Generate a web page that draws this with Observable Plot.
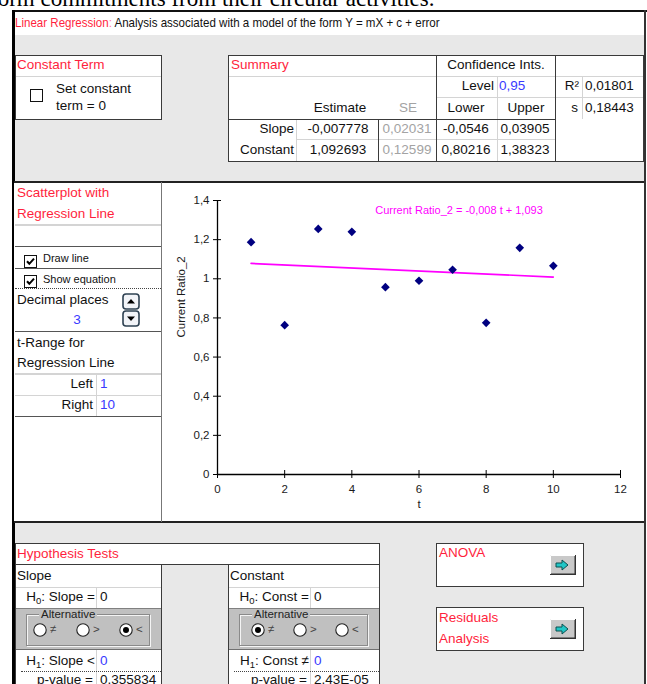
<!DOCTYPE html>
<html><head><meta charset="utf-8">
<script src="https://cdn.jsdelivr.net/npm/d3@7"></script>
<script src="https://cdn.jsdelivr.net/npm/@observablehq/plot@0.6"></script>
<style>
html,body{margin:0;padding:0;background:#fff;width:647px;height:684px;overflow:hidden;font-family:"Liberation Sans",Arial,sans-serif;}
#root{position:relative;width:647px;height:684px;overflow:hidden;}
.a{position:absolute;box-sizing:border-box;}
.t{position:absolute;white-space:nowrap;line-height:1;}
sub{font-size:9.5px;vertical-align:-3px;line-height:0;}
</style></head><body><div id="root"></div>
<script>
// ---------- data ----------
const tValues = [1, 2, 3, 4, 5, 6, 7, 8, 9, 10];
const currentRatio2 = [1.187, 0.763, 1.255, 1.240, 0.957, 0.990, 1.046, 0.775, 1.158, 1.066];
const xTicks = [0, 2, 4, 6, 8, 10, 12];
const yTicks = [0, 0.2, 0.4, 0.6, 0.8, 1, 1.2, 1.4];
const yTickLabels = ["0", "0,2", "0,4", "0,6", "0,8", "1", "1,2", "1,4"];
const slopeEstimate = -0.007778;
const constantEstimate = 1.092693;
const coefNames = ["Slope", "Constant"];
const estimates = ["-0,007778", "1,092693"];
const stdErrors = ["0,02031", "0,12599"];
const lowerCI = ["-0,0546", "0,80216"];
const upperCI = ["0,03905", "1,38323"];
const confLevel = "0,95";
const rSquared = "0,01801";
const sValue = "0,18443";
const pValues = ["0,355834", "2,43E-05"];
const decimalPlaces = 3;
const tRange = [1, 10];

// ---------- helpers ----------
const root = document.getElementById("root");
const RED = "#ff1f3d", BLUE = "#3a3aff", DARK = "#3a3a3a", LIGHT = "#d4d4d4";
function box(x, y, w, h, css) {
  const d = document.createElement("div"); d.className = "a";
  d.style.cssText = `left:${x}px;top:${y}px;width:${w}px;height:${h}px;` + (css || "");
  root.appendChild(d); return d;
}
function hline(x1, x2, y, c, w) { return box(x1, y, x2 - x1, w || 1, `background:${c || DARK};`); }
function vline(x, y1, y2, c, w) { return box(x, y1, w || 1, y2 - y1, `background:${c || DARK};`); }
function dotted(x1, x2, y) { return box(x1, y, x2 - x1, 1, "border-top:1px dotted #444;"); }
function txt(x, base, s, o = {}) {
  const fs = o.fs || 13.5;
  const d = document.createElement("div"); d.className = "t";
  let css = `top:${base - 0.86 * fs}px;font-size:${fs}px;color:${o.c || "#111"};`;
  if (o.align === "right") css += `right:${647 - x}px;text-align:right;`;
  else if (o.align === "center") css += `left:${x - 100}px;width:200px;text-align:center;`;
  else css += `left:${x}px;`;
  if (o.css) css += o.css;
  d.style.cssText = css; d.innerHTML = s; root.appendChild(d); return d;
}
function svg(x, y, w, h, inner) {
  const d = document.createElement("div"); d.className = "a";
  d.style.cssText = `left:${x}px;top:${y}px;width:${w}px;height:${h}px;`;
  d.innerHTML = `<svg width="${w}" height="${h}" viewBox="0 0 ${w} ${h}">${inner}</svg>`;
  root.appendChild(d); return d;
}
function checkbox(x, y, on) {
  svg(x, y, 13, 13, `<rect x="0.5" y="0.5" width="12" height="12" fill="#fff" stroke="#111"/>` +
    (on ? `<path d="M3 6.3 L5.3 8.8 L10 3.6" fill="none" stroke="#000" stroke-width="2"/>` : ""));
}
function radio(cx, cy, on) {
  svg(cx - 7, cy - 7, 14, 14, `<circle cx="7" cy="7" r="6.2" fill="#fff" stroke="#222" stroke-width="1.1"/>` +
    (on ? `<circle cx="7" cy="7" r="3" fill="#000"/>` : ""));
}
function spin(x, y, up) {
  svg(x, y, 18, 17, `<rect x="1" y="1" width="16" height="15" rx="3" fill="#f2f4f8" stroke="#2e4152" stroke-width="1.6"/>` +
    (up ? `<path d="M5 10.5 L9 6 L13 10.5 Z" fill="#000"/>` : `<path d="M5 6.5 L9 11 L13 6.5 Z" fill="#000"/>`));
}
function arrowBtn(x, y) {
  svg(x, y, 26, 20, `<rect x="0" y="0" width="26" height="20" fill="#c9c9c9"/>` +
    `<path d="M0 19.5 H25.5 V0" fill="none" stroke="#333" stroke-width="2"/>` +
    `<path d="M0.5 19 V0.5 H25" fill="none" stroke="#fff" stroke-width="1"/>` +
    `<path d="M6 8 H12 V5 L18 10 L12 15 V12 H6 Z" fill="#21c6c6" stroke="#0b5050" stroke-width="1"/>`);
}

// ---------- page background text ----------
txt(-10, 7, "form commitments from their circular activities.", { fs: 23, c: "#000", css: "font-family:'Liberation Serif','Times New Roman',serif;" });

// ---------- frame ----------
box(14, 11, 630, 24, "background:#fff;");
box(14, 35, 630, 660, "background:#e8e8e8;");
hline(12, 647, 10, "#111", 1.5);
vline(12, 10, 684, "#000", 2.5);
vline(644, 10, 684, "#333", 2);
txt(15, 28, `<span style="color:${RED}">Linear Regression</span><span style="color:#f7a">:</span> Analysis associated with a model of the form Y = mX + c + error`,
  { fs: 13.5, c: "#111", css: "transform:scaleX(0.855);transform-origin:0 0;" });

// ---------- Constant Term ----------
box(15, 55, 147, 65, `background:#fff;border:1px solid ${DARK};`);
hline(16, 161, 76, LIGHT);
txt(17, 70, "Constant Term", { c: RED });
checkbox(30, 88, false);
txt(56, 94, "Set constant");
txt(56, 111, "term = 0");

// ---------- Summary ----------
box(228, 55, 416, 107, `background:#fff;border:1px solid ${DARK};`);
hline(229, 643, 76, LIGHT);
hline(436, 643, 97, LIGHT);
hline(296, 555, 139, LIGHT);
vline(296, 119, 161, LIGHT);
vline(497, 76, 161, LIGHT);
vline(582, 76, 119, LIGHT);
vline(436, 55, 161, DARK);
vline(555, 55, 161, DARK);
vline(378, 119, 161, DARK);
hline(228, 555, 119, DARK);
txt(231, 70, "Summary", { c: RED });
txt(496, 70, "Confidence Ints.", { align: "center" });
txt(494, 91, "Level", { align: "right" });
txt(499, 91, confLevel, { c: BLUE });
txt(579, 91, "R²", { align: "right" });
txt(585, 91, rSquared);
txt(340, 113, "Estimate", { align: "center" });
txt(408, 113, "SE", { align: "center", c: "#a3a3a3" });
txt(466, 113, "Lower", { align: "center" });
txt(526, 113, "Upper", { align: "center" });
txt(578, 113, "s", { align: "right" });
txt(585, 113, sValue);
coefNames.forEach((n, i) => {
  const b = 134 + i * 21;
  txt(294, b, n, { align: "right" });
  txt(338, b, estimates[i], { align: "center" });
  txt(407, b, stdErrors[i], { align: "center", c: "#a3a3a3" });
  txt(466, b, lowerCI[i], { align: "center" });
  txt(525, b, upperCI[i], { align: "center" });
});

// ---------- Scatterplot section ----------
box(14, 182, 630, 340, "background:#fff;");
hline(14, 644, 181, "#222", 1.5);
hline(14, 644, 521, "#222", 1.5);
vline(161, 182, 522, "#777");
txt(17, 198, "Scatterplot with", { c: RED });
txt(17, 219, "Regression Line", { c: RED });
hline(15, 161, 224, LIGHT, 2);
hline(15, 161, 246, "#555");
checkbox(24, 254, true);
txt(43, 262, "Draw line", { fs: 11 });
hline(15, 161, 268, "#555");
checkbox(24, 274, true);
txt(43, 283, "Show equation", { fs: 11 });
dotted(15, 161, 288);
txt(17, 305, "Decimal places");
txt(77, 325, String(decimalPlaces), { align: "center", c: BLUE });
spin(122, 293, true);
spin(122, 310, false);
hline(15, 161, 331, "#555");
txt(17, 348, "t-Range for");
txt(17, 368, "Regression Line");
hline(15, 161, 373, LIGHT, 2);
hline(15, 161, 395, LIGHT);
vline(96, 373, 416, LIGHT);
txt(93, 389, "Left", { align: "right" });
txt(100, 389, String(tRange[0]), { c: BLUE });
txt(93, 410, "Right", { align: "right" });
txt(100, 410, String(tRange[1]), { c: BLUE });
hline(15, 161, 416, "#555");

// ---------- chart (Observable Plot) ----------
const data = tValues.map((t, i) => ({ t, r: currentRatio2[i] }));
const fmt3 = v => v.toFixed(decimalPlaces).replace(".", ",");
const eqText = `Current Ratio_2 = ${fmt3(slopeEstimate)} t + ${fmt3(constantEstimate)}`;
const chart = Plot.plot({
  width: 483, height: 340,
  marginLeft: 56, marginRight: 24, marginTop: 18, marginBottom: 48,
  style: { background: "transparent", fontFamily: "'Liberation Sans', Arial, sans-serif", fontSize: "11.5px", color: "#1a1a1a", overflow: "visible" },
  x: { domain: [0, 12], label: null },
  y: { domain: [0, 1.4], label: null },
  marks: [
    Plot.ruleX([0], { stroke: "#000", strokeWidth: 1.3 }),
    Plot.ruleY([0], { stroke: "#000", strokeWidth: 1.3 }),
    Plot.axisY(yTicks, { tickSize: 8, dx: 4, tickPadding: 4, stroke: "#000", label: null,
      tickFormat: d => yTickLabels[yTicks.indexOf(d)] }),
    Plot.axisX(xTicks, { tickSize: 8, dy: -4, tickPadding: 6, stroke: "#000", label: null, tickFormat: d => String(d) }),
    Plot.linearRegressionY(data, { x: "t", y: "r", stroke: "#ff00ff", strokeWidth: 1.7, ci: 0 }),
    Plot.dot(data, { x: "t", y: "r", symbol: "diamond2", r: 3.9, fill: "#000080", stroke: "none" }),
    Plot.text([eqText], { frameAnchor: "top", dx: 40, dy: 6, fill: "#ff00ff", fontSize: 11 }),
    Plot.text(["Current Ratio_2"], { frameAnchor: "left", rotate: -90, dx: -36, fontSize: 11.5, fill: "#1a1a1a" }),
    Plot.text(["t"], { frameAnchor: "bottom", dy: 33, fontSize: 11.5, fill: "#1a1a1a" })
  ]
});
const holder = box(161, 182, 483, 340, "");
holder.appendChild(chart);

// ---------- Hypothesis tests ----------
box(15, 543, 365, 22, `background:#fff;border:1px solid ${DARK};`);
txt(17, 559, "Hypothesis Tests", { c: RED });
function hyp(x0, x1, vx, title, param, rel, pval, sel, radioXs, altX) {
  box(x0, 564, x1 - x0 + 1, 140, `background:#fff;border:1px solid ${DARK};`);
  txt(x0 + 2, 581, title);
  hline(x0 + 1, x1, 587, LIGHT);
  vline(vx, 587, 608, LIGHT);
  txt(vx - 1, 602, `H<sub>0</sub>: ${param} =`, { align: "right" });
  txt(vx + 4, 602, "0");
  box(x0 + 1, 608, x1 - x0 - 1, 42, "background:#c0c0c0;border-top:1px solid #808080;border-bottom:1px solid #707070;");
  box(x0 + 11, 614, x1 - x0 - 22, 32, "border:1px solid #8a8a8a;box-shadow:1px 1px 0 #f4f4f4, inset 1px 1px 0 #f4f4f4;");
  txt(altX, 619, "Alternative", { fs: 11.5, c: "#222", css: "background:#c0c0c0;padding:0 2px;" });
  const syms = ["≠", "&gt;", "&lt;"];
  radioXs.forEach((rx, i) => {
    radio(rx, 630, i === sel);
    txt(rx + 10, 634, syms[i], { fs: 11.5, c: "#444" });
  });
  vline(vx, 650, 671, LIGHT);
  txt(vx - 1, 666, `H<sub>1</sub>: ${param} ${rel}`, { align: "right" });
  txt(vx + 4, 666, "0", { c: BLUE });
  dotted(x0 + 6, x1, 671);
  vline(vx, 672, 700, LIGHT);
  txt(vx - 3, 685, "p-value =", { align: "right" });
  txt(vx + 4, 685, pval);
}
hyp(15, 161, 96, "Slope", "Slope", "&lt;", pValues[0], 2, [40, 83, 126], 39);
hyp(228, 379, 310, "Constant", "Const", "≠", pValues[1], 0, [258, 300, 342], 252);

// ---------- ANOVA / Residuals ----------
box(436, 543, 148, 44, `background:#fff;border:1px solid ${DARK};`);
txt(439, 558, "ANOVA", { c: RED });
arrowBtn(550, 555);
box(436, 607, 148, 44, `background:#fff;border:1px solid ${DARK};`);
txt(439, 623, "Residuals", { c: RED });
txt(439, 644, "Analysis", { c: RED });
arrowBtn(550, 619);
</script>
</body></html>
